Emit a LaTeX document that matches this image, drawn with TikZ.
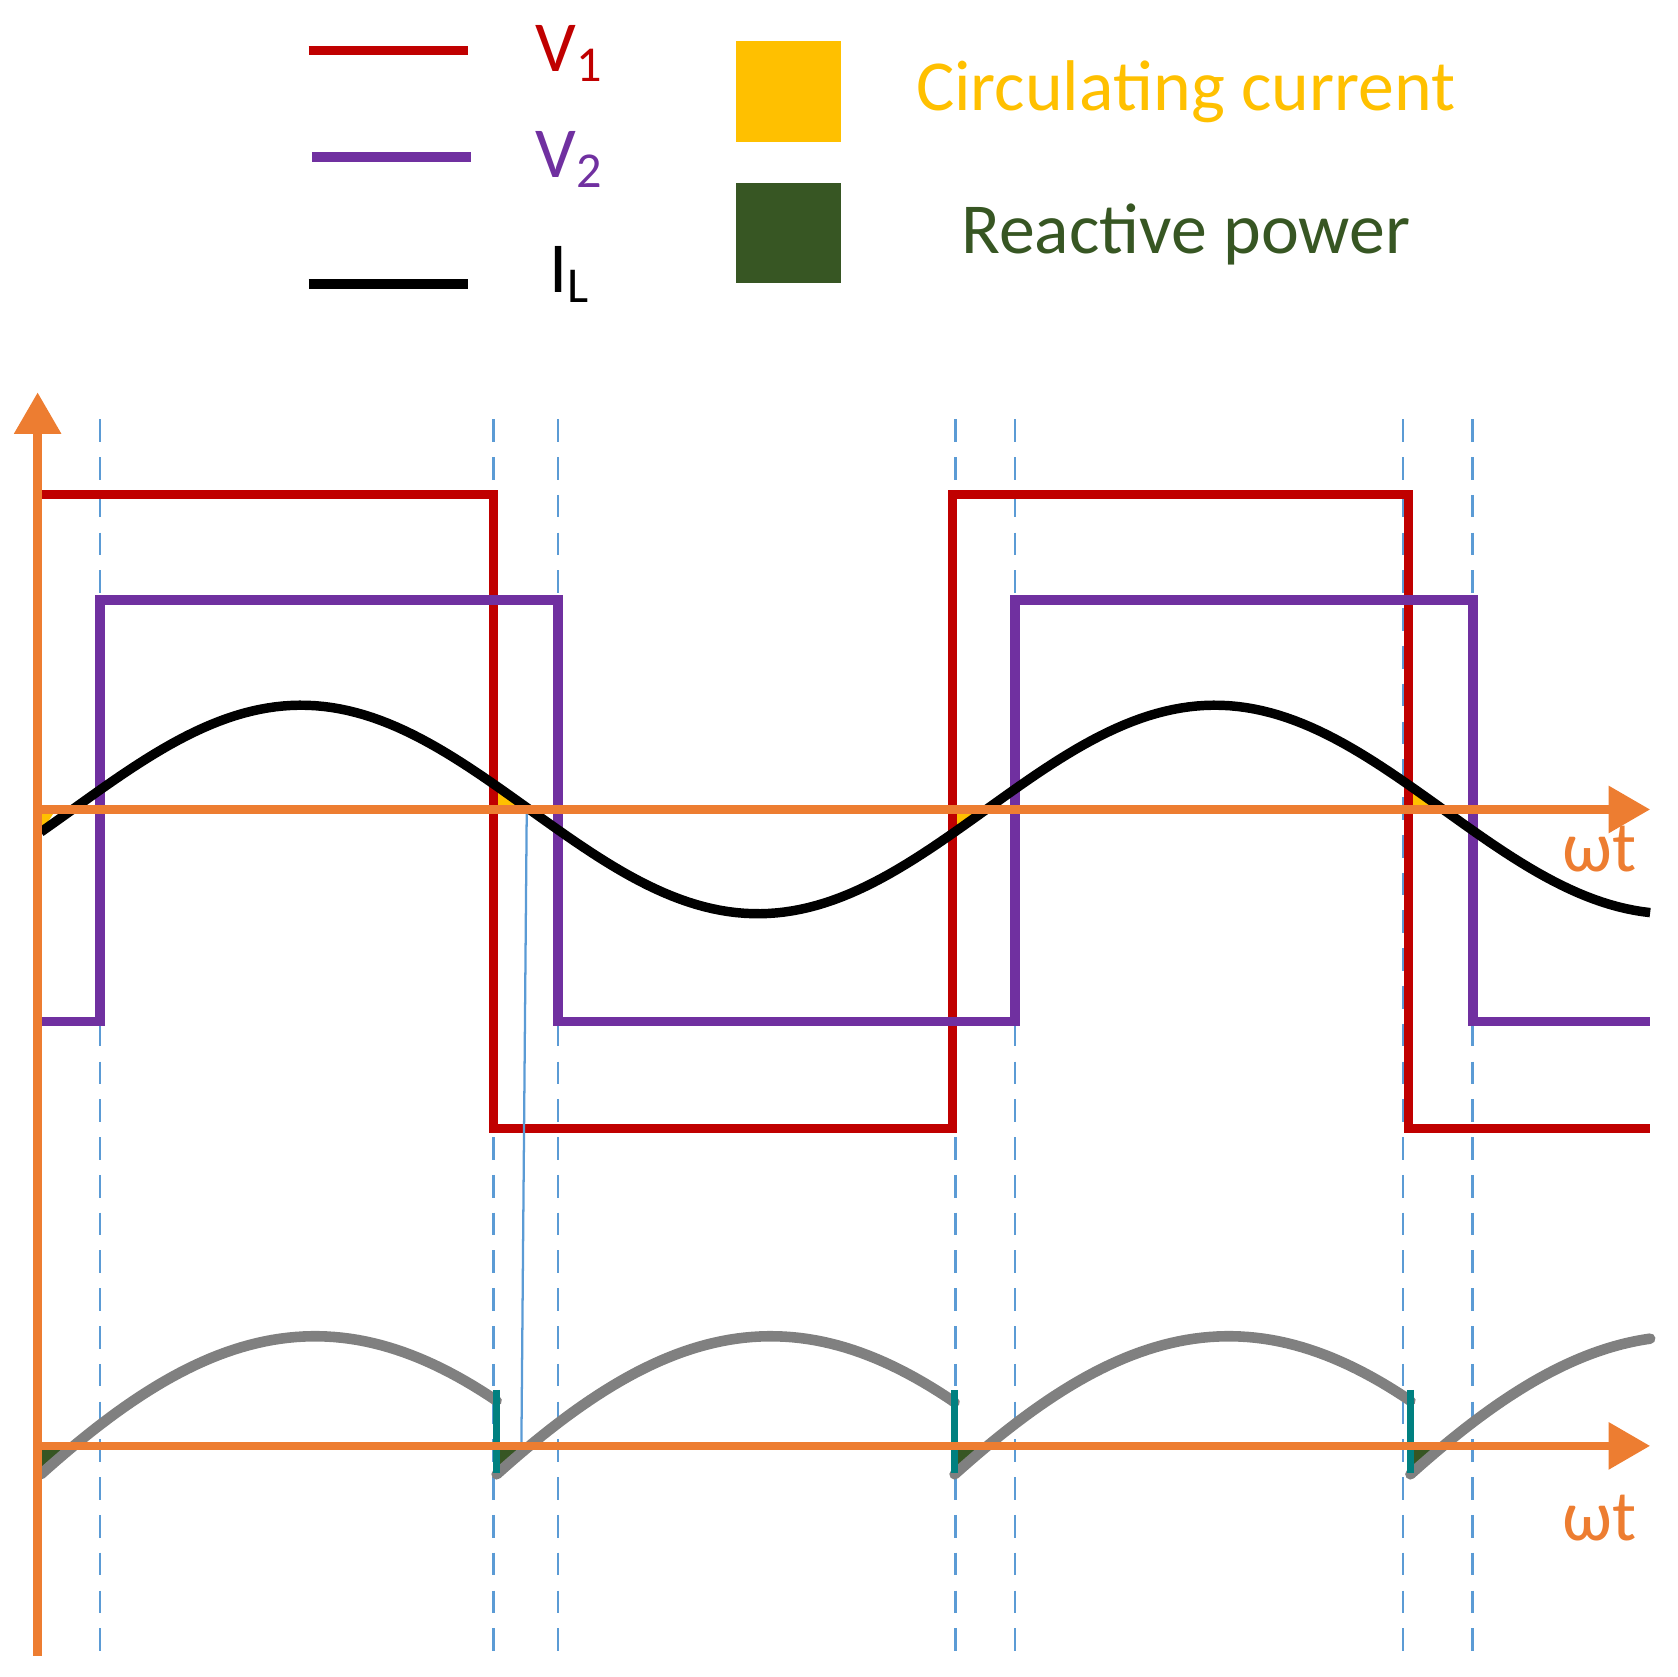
\documentclass[tikz,border=0pt]{standalone}
\usepackage{fontspec}
\setmainfont{Carlito}
\usetikzlibrary{arrows.meta}
\definecolor{vred}{HTML}{C00000}
\definecolor{vpur}{HTML}{7030A0}
\definecolor{axo}{HTML}{ED7D31}
\definecolor{cyel}{HTML}{FFC000}
\definecolor{rgrn}{HTML}{375623}
\definecolor{dblue}{HTML}{5B9BD5}
\definecolor{teal2}{HTML}{008080}
\tikzset{
 ax/.style={axo,line width=2.2pt,-{Triangle[length=11pt,width=12pt]}},
 guide/.style={dblue,line width=0.7pt,dash pattern=on 6pt off 4pt},
 lbl/.style={font=\fontsize{19}{22}\selectfont,inner sep=0pt},
}
\begin{document}
\begin{tikzpicture}
\useasboundingbox (0,0) rectangle (15.6,-15.6);
% legend
\draw[vred,line width=2.5pt] (2.87,-0.47) coordinate (r1) -- (4.35,-0.47) coordinate (r2);
\node[lbl,text=vred] (lv1) at (5.3,-0.5) {V\textsubscript{1}};
\draw[vpur,line width=2.5pt] (2.9,-1.46) coordinate (p1) -- (4.38,-1.46) coordinate (p2);
\node[lbl,text=vpur] (lv2) at (5.3,-1.48) {V\textsubscript{2}};
\draw[black,line width=2.5pt] (2.87,-2.64) coordinate (b1) -- (4.35,-2.64) coordinate (b2);
\node[lbl] (li) at (5.3,-2.55) {I\textsubscript{L}};
\fill[cyel] (6.85,-0.38) rectangle (7.82,-1.32);
\fill[rgrn] (6.85,-1.70) rectangle (7.82,-2.63);
\node[lbl,text=cyel] (lc) at (11.03,-0.85) {Circula\kern0pt ting current};
\node[lbl,text=rgrn] (lr) at (11.03,-2.18) {Reac\kern0pt tive power};
% dashed lines
\foreach \x in {0.93,4.59,5.19,8.89,9.44,13.05,13.70}
  \draw[guide] (\x,-3.9) -- (\x,-15.4);
% small fills
\fill[cyel] (0.38,-7.53) -- (0.52,-7.53) -- (0.38,-7.75) -- cycle;
\fill[cyel] (4.59,-7.53) -- (4.90,-7.53) -- (4.62,-7.30) -- cycle;
\fill[cyel] (8.86,-7.53) -- (9.15,-7.53) -- (8.86,-7.78) -- cycle;
\fill[cyel] (13.10,-7.53) -- (13.40,-7.53) -- (13.10,-7.30) -- cycle;
\foreach \a in {0.38,4.62,8.88,13.12}
  \fill[rgrn] (\a,-13.45) -- (\a+0.22,-13.45) -- (\a,-13.72) -- cycle;
% square waves
\draw[vred,line width=2.5pt] (0.35,-7.53) -- (0.35,-4.60) -- (4.59,-4.60) -- (4.59,-10.50) -- (8.86,-10.50) -- (8.86,-4.60) -- (13.10,-4.60) -- (13.10,-10.50) -- (15.35,-10.50);
\draw[vpur,line width=2.5pt] (0.38,-9.50) -- (0.93,-9.50) -- (0.93,-5.58) -- (5.19,-5.58) -- (5.19,-9.50) -- (9.44,-9.50) -- (9.44,-5.58) -- (13.70,-5.58) -- (13.70,-9.50) -- (15.35,-9.50);
% current
\draw[black,line width=2.5pt] plot[domain=0.38:15.35,samples=200] (\x,{-7.53+0.97*cos(deg(2*pi*(\x-2.8)/8.5))});
% thin line
\coordinate (t1) at (4.90,-7.53); \coordinate (t2) at (4.85,-13.45);
\draw[dblue,line width=0.6pt] (t1) -- (t2);
% gray curves
\foreach \a/\b in {0.38/4.62,4.62/8.88,8.88/13.12,13.12/15.35}
  \draw[gray,line width=2.8pt,line cap=round] plot[domain=\a:\b,samples=60] (\x,{-13.45-1.17+2.19*sin(deg(pi*(\x-\a+0.95)/7.0))});
\foreach \a in {4.62,8.88,13.12}
  \draw[teal2,line width=2pt] (\a,-12.93) -- (\a,-13.70);
% axes
\coordinate (o) at (0.35,-15.4);
\coordinate (yt) at (0.35,-3.65);
\draw[ax] (o) -- (yt);
\coordinate (x1a) at (0.35,-7.53); \coordinate (x1b) at (15.35,-7.53);
\draw[ax] (x1a) -- (x1b);
\coordinate (x2a) at (0.35,-13.45); \coordinate (x2b) at (15.35,-13.45);
\draw[ax] (x2a) -- (x2b);
\node[lbl,text=axo] (w1) at (14.88,-7.9) {ωt};
\node[lbl,text=axo] (w2) at (14.88,-14.12) {ωt};
\end{tikzpicture}
\end{document}
